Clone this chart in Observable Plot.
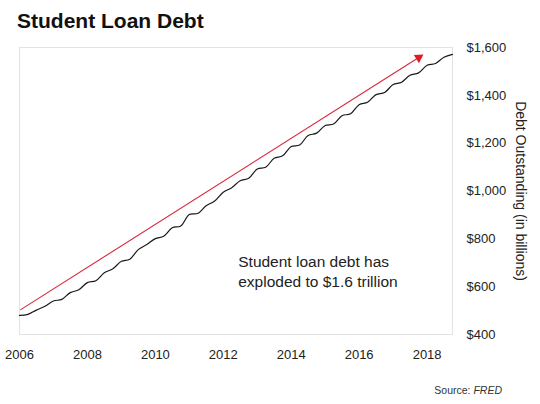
<!DOCTYPE html>
<html>
<head>
<meta charset="utf-8">
<script src="https://cdn.jsdelivr.net/npm/d3@7"></script>
<script src="https://cdn.jsdelivr.net/npm/@observablehq/plot@0.6"></script>
<style>
  html, body { margin: 0; padding: 0; background: #fff; }
  body { width: 540px; height: 404px; overflow: hidden; font-family: "Liberation Sans", Arial, sans-serif; }
  #title { height: 38px; padding-top: 2px; padding-left: 17px; font-size: 21px; line-height: 38px; font-weight: bold; color: #111; }
  #source { height: 21px; padding-top: 13px; padding-right: 38px; text-align: right; font-size: 10.5px; line-height: 14px; color: #333; }
  #chart svg { display: block; }
</style>
</head>
<body>
<div id="title">Student Loan Debt</div>
<div id="chart"></div>
<div id="source">Source: <i>FRED</i></div>
<script>
// Quarterly student loan debt outstanding (billions of dollars)
const quarters = [
  "2006-01-01","2006-04-01","2006-07-01","2006-10-01",
  "2007-01-01","2007-04-01","2007-07-01","2007-10-01",
  "2008-01-01","2008-04-01","2008-07-01","2008-10-01",
  "2009-01-01","2009-04-01","2009-07-01","2009-10-01",
  "2010-01-01","2010-04-01","2010-07-01","2010-10-01",
  "2011-01-01","2011-04-01","2011-07-01","2011-10-01",
  "2012-01-01","2012-04-01","2012-07-01","2012-10-01",
  "2013-01-01","2013-04-01","2013-07-01","2013-10-01",
  "2014-01-01","2014-04-01","2014-07-01","2014-10-01",
  "2015-01-01","2015-04-01","2015-07-01","2015-10-01",
  "2016-01-01","2016-04-01","2016-07-01","2016-10-01",
  "2017-01-01","2017-04-01","2017-07-01","2017-10-01",
  "2018-01-01","2018-04-01","2018-07-01","2018-10-01"
];
const debt = [
  480, 484, 502, 518,
  540, 547, 575, 587,
  617, 625, 658, 675,
  706, 715, 755, 776,
  801, 811, 846, 854,
  902, 906, 938, 958,
  995, 1014, 1043, 1053,
  1092, 1099, 1137, 1147,
  1186, 1192, 1232, 1242,
  1274, 1280, 1315, 1323,
  1361, 1371, 1403, 1412,
  1445, 1455, 1484, 1494,
  1526, 1533, 1559, 1571
];
const xTickYears = ["2006","2008","2010","2012","2014","2016","2018"];
const yTicks = [400, 600, 800, 1000, 1200, 1400, 1600];
const xDomain = ["2006-01-01", "2018-10-01"];
const yDomain = [400, 1600];

// Trend arrow (start / head) and annotation
const arrowStart = {date: "2006-01-10", value: 503};
const arrowHead = {date: "2017-10-03", value: 1558};
const noteText = ["Student loan debt has\nexploded to $1.6 trillion"];
const notePos = {date: "2012-06-10", value: 668};

const parse = d3.utcParse("%Y-%m-%d");
const parseYear = d3.utcParse("%Y");
const series = quarters.map((q, i) => ({date: parse(q), value: debt[i]}));
const arrowData = [{x1: parse(arrowStart.date), y1: arrowStart.value, x2: parse(arrowHead.date), y2: arrowHead.value}];

const chart = Plot.plot({
  width: 540,
  height: 330,
  marginTop: 7,
  marginBottom: 36,
  marginLeft: 19,
  marginRight: 88,
  style: {fontFamily: "'Liberation Sans', Arial, sans-serif", fontSize: "13px", color: "#222", background: "#fff"},
  x: {type: "utc", domain: xDomain.map(parse), ticks: xTickYears.map(parseYear), tickFormat: d3.utcFormat("%Y"), tickSize: 0, tickPadding: 15, label: null},
  y: {domain: yDomain, ticks: yTicks, tickFormat: d => "$" + d3.format(",")(d), axis: "right", tickSize: 0, tickPadding: 14, label: null},
  marks: [
    Plot.frame({stroke: "#e2e2e2"}),
    Plot.link(arrowData, {x1: "x1", y1: "y1", x2: "x2", y2: "y2", stroke: "#d9263a", strokeWidth: 1.1}),
    Plot.dot([arrowData[0]], {x: "x2", y: "y2", symbol: "triangle", r: 3.6, fill: "#e01b24", stroke: "none", rotate: 57.8}),
    Plot.line(series, {x: "date", y: "value", stroke: "#1a1a1a", strokeWidth: 1.2, curve: "catmull-rom"}),
    Plot.text(noteText, {x: () => parse(notePos.date), y: () => notePos.value, text: d => d, textAnchor: "start", lineAnchor: "middle", lineHeight: 1.3, fontSize: 15.5, fill: "#222"})
  ]
});

// rotated y-axis title on the right
const svg = d3.select(chart);
svg.append("text")
  .attr("transform", "translate(516,151) rotate(90)")
  .attr("text-anchor", "middle")
  .attr("font-size", 14)
  .attr("fill", "#222")
  .text("Debt Outstanding (in billions)");

document.getElementById("chart").appendChild(chart);
</script>
</body>
</html>
